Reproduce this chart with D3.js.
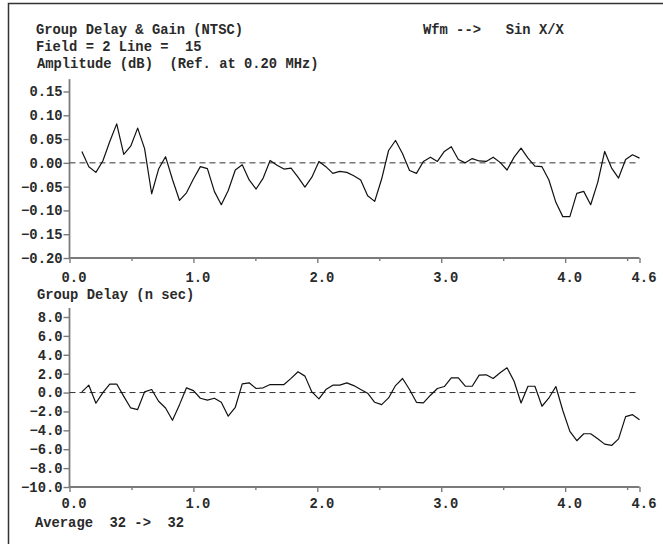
<!DOCTYPE html>
<html><head><meta charset="utf-8">
<script src="https://d3js.org/d3.v7.min.js"></script>
<style>
html,body{margin:0;padding:0;background:#fff;}
svg{display:block;}
text{font-family:"Liberation Mono","Courier New",monospace;font-weight:bold;fill:#2a2a2a;}
</style></head>
<body><svg id="c" width="663" height="544"></svg>
<script>
const freqs = [0.100,0.156,0.213,0.269,0.325,0.381,0.438,0.494,0.550,0.606,0.663,0.719,0.775,0.831,0.888,0.944,1.000,1.056,1.113,1.169,1.225,1.281,1.338,1.394,1.450,1.506,1.563,1.619,1.675,1.731,1.788,1.844,1.900,1.956,2.013,2.069,2.125,2.181,2.238,2.294,2.350,2.406,2.463,2.519,2.575,2.631,2.688,2.744,2.800,2.856,2.913,2.969,3.025,3.081,3.138,3.194,3.250,3.306,3.363,3.419,3.475,3.531,3.588,3.644,3.700,3.756,3.813,3.869,3.925,3.981,4.038,4.094,4.150,4.206,4.263,4.319,4.375,4.431,4.488,4.544,4.600];
const amplitude = [0.024,-0.008,-0.020,0.004,0.045,0.082,0.018,0.035,0.073,0.030,
 -0.065,-0.013,0.013,-0.035,-0.079,-0.063,-0.034,-0.008,-0.012,-0.060,
 -0.088,-0.058,-0.015,-0.004,-0.036,-0.055,-0.032,0.005,-0.005,-0.013,
 -0.011,-0.030,-0.051,-0.030,0.003,-0.008,-0.022,-0.018,-0.020,-0.027,
 -0.036,-0.069,-0.081,-0.034,0.026,0.047,0.019,-0.016,-0.022,0.003,
 0.012,0.003,0.024,0.034,0.007,0.000,0.009,0.004,0.003,0.012,
 0.001,-0.015,0.012,0.031,0.010,-0.007,-0.008,-0.036,-0.083,-0.113,
 -0.113,-0.064,-0.060,-0.088,-0.041,0.024,-0.011,-0.032,0.007,0.017,0.010];
const groupDelay = [0.07,0.78,-1.13,0.0,0.9,0.9,-0.4,-1.63,-1.8,0.07,
 0.32,-0.92,-1.63,-2.94,-1.28,0.5,0.2,-0.6,-0.8,-0.6,
 -1.03,-2.5,-1.56,0.92,1.03,0.43,0.5,0.85,0.85,0.85,
 1.5,2.2,1.74,0.07,-0.67,0.32,0.78,0.78,1.03,0.74,
 0.32,-0.07,-1.03,-1.28,-0.57,0.74,1.49,0.32,-1.03,-1.1,
 -0.28,0.43,0.64,1.56,1.56,0.67,0.67,1.84,1.88,1.49,
 2.09,2.62,1.2,-1.1,0.67,0.67,-1.45,-0.57,0.64,-1.9,
 -4.11,-5.1,-4.36,-4.36,-4.9,-5.46,-5.6,-4.9,-2.55,-2.34,-2.87];
const xMajorTicks = [0.0,1.0,2.0,3.0,4.0,4.6];
const xMinorTicks = [0.5,1.5,2.5,3.5,4.5];
const ampTicks = [0.15,0.10,0.05,0.00,-0.05,-0.10,-0.15,-0.20];
const delayTicks = [8,6,4,2,0,-2,-4,-6,-8,-10];
const headerLines = ["Group Delay & Gain (NTSC)","Field = 2 Line =  15","Amplitude (dB)  (Ref. at 0.20 MHz)"];
const wfmLabel = "Wfm -->   Sin X/X";
const delayTitle = "Group Delay (n sec)";
const footer = "Average  32 ->  32";

const svg = d3.select("#c");
const FS = 13.8;
const axisColor = "#7a7a7a";

// frame
svg.append("path").attr("d","M8.5,560 L8.5,3.5 L680,3.5").attr("fill","none").attr("stroke","#333").attr("stroke-width",1.5);

const x = d3.scaleLinear().domain([0,4.6]).range([69.5,639.5]);
const yAmp = d3.scaleLinear().domain([-0.20,0.15]).range([258,91.5]);
const yDel = d3.scaleLinear().domain([-10,8]).range([487,317]);

function panel(y, yTicks, yFmt, yTopVal, data, labelBaseline){
  const g = svg.append("g");
  const y0 = y.range()[0];
  const ya = g.append("g").attr("transform",`translate(${x(0)},0)`)
    .call(d3.axisLeft(y).tickValues(yTicks).tickFormat(yFmt).tickSize(6).tickPadding(1).tickSizeOuter(0));
  ya.select(".domain").remove();
  ya.selectAll(".tick line").attr("stroke",axisColor).attr("stroke-width",1.4);
  ya.selectAll(".tick text").style("font-size",FS+"px").attr("fill","#2a2a2a");
  g.append("line").attr("x1",x(0)).attr("x2",x(0)).attr("y1",y(yTopVal)).attr("y2",y0+0.7)
    .attr("stroke",axisColor).attr("stroke-width",1.8);
  const xa = g.append("g").attr("transform",`translate(0,${y0})`)
    .call(d3.axisBottom(x).tickValues(xMajorTicks).tickFormat(d3.format(".1f")).tickSize(5).tickPadding(0).tickSizeOuter(0));
  xa.select(".domain").remove();
  xa.selectAll(".tick line").attr("stroke",axisColor).attr("stroke-width",1.4);
  xa.selectAll(".tick text").style("font-size",FS+"px").attr("fill","#2a2a2a")
    .attr("dy",null).attr("x",4).attr("y",labelBaseline - y0);
  const xm = g.append("g").attr("transform",`translate(0,${y0})`)
    .call(d3.axisBottom(x).tickValues(xMinorTicks).tickFormat("").tickSize(3).tickSizeOuter(0));
  xm.select(".domain").remove();
  xm.selectAll(".tick line").attr("stroke",axisColor).attr("stroke-width",1.4);
  g.append("line").attr("x1",x(0)).attr("x2",x(4.6)).attr("y1",y0).attr("y2",y0)
    .attr("stroke",axisColor).attr("stroke-width",1.8);
  g.append("line").attr("x1",x(0)).attr("x2",x(4.6)).attr("y1",y(0)).attr("y2",y(0))
    .attr("stroke","#333").attr("stroke-width",1).attr("stroke-dasharray","6,4");
  const line = d3.line().x((d,i)=>x(freqs[i])).y(d=>y(d));
  g.append("path").datum(data).attr("d",line).attr("fill","none").attr("stroke","#111").attr("stroke-width",1.2).attr("stroke-linejoin","round");
}

panel(yAmp, ampTicks, d3.format(".2f"), 0.176, amplitude, 282);
panel(yDel, delayTicks, d3.format(".1f"), 8.95, groupDelay, 508);

function txt(s, xx, yy){
  svg.append("text").attr("x",xx).attr("y",yy).attr("xml:space","preserve").style("white-space","pre")
    .style("font-size",FS+"px").text(s);
}
txt(headerLines[0],36,34);
txt(headerLines[1],36,51);
txt(headerLines[2],37,68);
txt(wfmLabel,423,34);
txt(delayTitle,37,298.5);
txt(footer,35,527);
</script></body></html>
